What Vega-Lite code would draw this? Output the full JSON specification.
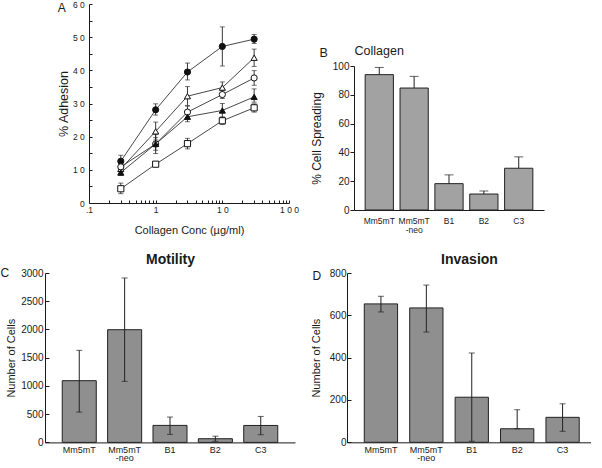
{
  "$schema": "https://vega.github.io/schema/vega-lite/v6.json",
  "background": "white",
  "padding": 0,
  "config": {
    "view": {"stroke": null},
    "font": "Liberation Sans",
    "axis": {"grid": false, "domainColor": "#1a1a1a", "tickColor": "#1a1a1a", "labelColor": "#1a1a1a", "titleColor": "#1a1a1a", "titleFontWeight": "normal", "domainWidth": 1, "tickWidth": 1}
  },
  "spacing": 16,
  "vconcat": [
    {
      "spacing": 11,
      "hconcat": [
        {"width": 1, "height": 1, "data": {"values": []}, "mark": {"type": "point", "opacity": 0}, "encoding": {}},
        {
          "width": 200, "height": 199,
          "data": {"values": [
            {"series": "s1", "conc": 0.3, "mean": 12.6, "lo": 10.9, "hi": 14.4},
            {"series": "s1", "conc": 1, "mean": 28.1, "lo": 26.5, "hi": 29.9},
            {"series": "s1", "conc": 3, "mean": 39.5, "lo": 37.1, "hi": 42.2},
            {"series": "s1", "conc": 10, "mean": 47.2, "lo": 41.3, "hi": 53.1},
            {"series": "s1", "conc": 30, "mean": 49.4, "lo": 48.1, "hi": 50.8},
            {"series": "s2", "conc": 0.3, "mean": 10.3, "lo": 9.3, "hi": 11.3},
            {"series": "s2", "conc": 1, "mean": 21.6, "lo": 19.0, "hi": 24.4},
            {"series": "s2", "conc": 3, "mean": 32.2, "lo": 29.4, "hi": 35.1},
            {"series": "s2", "conc": 10, "mean": 34.8, "lo": 33.1, "hi": 36.5},
            {"series": "s2", "conc": 30, "mean": 43.8, "lo": 41.2, "hi": 46.4},
            {"series": "s3", "conc": 0.3, "mean": 10.9, "lo": 10.0, "hi": 11.8},
            {"series": "s3", "conc": 1, "mean": 17.8, "lo": 15.9, "hi": 19.7},
            {"series": "s3", "conc": 3, "mean": 27.4, "lo": 25.6, "hi": 29.2},
            {"series": "s3", "conc": 10, "mean": 32.7, "lo": 31.5, "hi": 33.9},
            {"series": "s3", "conc": 30, "mean": 37.7, "lo": 35.5, "hi": 39.9},
            {"series": "s4", "conc": 0.3, "mean": 9.2, "lo": 8.3, "hi": 10.1},
            {"series": "s4", "conc": 1, "mean": 17.8, "lo": 14.9, "hi": 20.7},
            {"series": "s4", "conc": 3, "mean": 26.0, "lo": 24.5, "hi": 27.5},
            {"series": "s4", "conc": 10, "mean": 27.9, "lo": 25.9, "hi": 30.0},
            {"series": "s4", "conc": 30, "mean": 32.0, "lo": 30.4, "hi": 34.4},
            {"series": "s5", "conc": 0.3, "mean": 4.3, "lo": 2.8, "hi": 6.0},
            {"series": "s5", "conc": 1, "mean": 11.7, "lo": 11.1, "hi": 12.3},
            {"series": "s5", "conc": 3, "mean": 17.9, "lo": 16.3, "hi": 19.5},
            {"series": "s5", "conc": 10, "mean": 24.8, "lo": 23.7, "hi": 25.9},
            {"series": "s5", "conc": 30, "mean": 28.7, "lo": 27.4, "hi": 29.9}
          ]},
          "resolve": {"axis": {"x": "independent", "y": "independent"}},
          "layer": [
            {
              "mark": {"type": "line", "color": "#333333", "strokeWidth": 0.9},
              "encoding": {
                "x": {"field": "conc", "type": "quantitative", "title": "Collagen Conc (µg/ml)",
                  "scale": {"type": "log", "domain": [0.1, 100]},
                  "axis": {"values": [0.1,0.2,0.3,0.4,0.5,0.6,0.7,0.8,0.9,1,2,3,4,5,6,7,8,9,10,20,30,40,50,60,70,80,90,100],
                    "tickCount": 100,
                    "labelExpr": "datum.value == 0.1 ? '.1' : datum.value == 1 ? '1' : datum.value == 10 ? '1 0' : datum.value == 100 ? '1 0 0' : ''",
                    "tickSize": -3, "labelPadding": 5, "labelFontSize": 8.5, "labelFlush": false, "labelOverlap": false, "titleFontSize": 11, "titlePadding": 11}},
                "y": {"field": "mean", "type": "quantitative", "title": "% Adhesion",
                  "scale": {"domain": [0, 60]},
                  "axis": {"values": [0,5,10,15,20,25,30,35,40,45,50,55,60], "tickCount": 100, "format": "d",
                    "labelExpr": "datum.value % 10 == 0 ? join(split(datum.label, ''), ' ') : ''",
                    "tickSize": -3, "labelPadding": 7.7, "labelFontSize": 8.5, "labelOverlap": false, "titleFontSize": 12.5, "titlePadding": 2}},
                "detail": {"field": "series"}
              }
            },
            {
              "mark": {"type": "rule", "color": "#222222", "strokeWidth": 0.9},
              "encoding": {
                "x": {"field": "conc", "type": "quantitative", "axis": null},
                "y": {"field": "lo", "type": "quantitative", "axis": null},
                "y2": {"field": "hi"}
              }
            },
            {
              "mark": {"type": "tick", "orient": "horizontal", "size": 5, "thickness": 0.9, "color": "#222222"},
              "encoding": {
                "x": {"field": "conc", "type": "quantitative",
                  "axis": {"orient": "top", "title": "A", "labels": false, "ticks": false, "domain": false,
                    "titleFontSize": 12, "titleX": -31.7, "titleY": 7.2, "titleAlign": "left", "titleBaseline": "alphabetic", "titleAngle": 0}},
                "y": {"field": "lo", "type": "quantitative", "axis": null}
              }
            },
            {
              "mark": {"type": "tick", "orient": "horizontal", "size": 5, "thickness": 0.9, "color": "#222222"},
              "encoding": {
                "x": {"field": "conc", "type": "quantitative", "axis": null},
                "y": {"field": "hi", "type": "quantitative", "axis": null}
              }
            },
            {
              "mark": {"type": "point", "filled": true, "size": 38, "stroke": "#111111", "strokeWidth": 1, "opacity": 1},
              "encoding": {
                "x": {"field": "conc", "type": "quantitative", "axis": null},
                "y": {"field": "mean", "type": "quantitative", "axis": null},
                "shape": {"field": "series", "scale": {"domain": ["s1","s2","s3","s4","s5"], "range": ["circle","triangle-up","circle","triangle-up","square"]}, "legend": null},
                "fill": {"field": "series", "scale": {"domain": ["s1","s2","s3","s4","s5"], "range": ["#111111","#ffffff","#ffffff","#111111","#ffffff"]}, "legend": null}
              }
            }
          ]
        },
        {
          "spacing": 0,
          "vconcat": [
            {"width": 1, "height": 40, "data": {"values": []}, "mark": {"type": "point", "opacity": 0}, "encoding": {}},
            {
              "width": 190, "height": 144,
              "data": {"values": [
                {"cell": "Mm5mT", "value": 94, "hi": 99},
                {"cell": "Mm5mT-neo", "value": 84.7, "hi": 92.8},
                {"cell": "B1", "value": 18.3, "hi": 24.4},
                {"cell": "B2", "value": 11.1, "hi": 13.2},
                {"cell": "C3", "value": 29, "hi": 36.9}
              ]},
              "resolve": {"axis": {"x": "independent", "y": "independent"}},
              "layer": [
                {
                  "mark": {"type": "bar", "fill": "#a2a2a2", "stroke": "#222222", "strokeWidth": 1},
                  "encoding": {
                    "x": {"field": "cell", "type": "nominal", "sort": null, "title": null,
                      "scale": {"paddingInner": 0.19, "paddingOuter": 0.32},
                      "axis": {"orient": "bottom", "ticks": false, "labelAngle": 0, "labelFontSize": 8.5, "labelPadding": 6.5, "labelLineHeight": 9, "labelOverlap": false,
                        "labelExpr": "datum.label == 'Mm5mT-neo' ? ['Mm5mT', '-neo'] : datum.label"}},
                    "y": {"field": "value", "type": "quantitative", "title": "% Cell Spreading",
                      "scale": {"domain": [0, 100]},
                      "axis": {"values": [0,20,40,60,80,100], "tickCount": 100, "tickSize": 4, "labelPadding": 1, "labelFontSize": 10, "titleFontSize": 12, "titlePadding": 9}}
                  }
                },
                {
                  "mark": {"type": "rule", "color": "#222222", "strokeWidth": 1},
                  "encoding": {
                    "x": {"field": "cell", "type": "nominal", "sort": null,
                      "axis": {"orient": "top", "title": "Collagen", "labels": false, "ticks": false, "domain": false, "titleAnchor": "start", "titleFontSize": 12.5, "titlePadding": 8.5}},
                    "y": {"field": "value", "type": "quantitative", "axis": null},
                    "y2": {"field": "hi"}
                  }
                },
                {
                  "mark": {"type": "tick", "orient": "horizontal", "size": 9, "thickness": 1, "color": "#222222"},
                  "encoding": {
                    "x": {"field": "cell", "type": "nominal", "sort": null,
                      "axis": {"orient": "top", "title": "B", "labels": false, "ticks": false, "domain": false,
                        "titleFontSize": 12.5, "titleX": -35, "titleY": -9.7, "titleAlign": "left", "titleBaseline": "alphabetic", "titleAngle": 0}},
                    "y": {"field": "hi", "type": "quantitative", "axis": null}
                  }
                }
              ]
            }
          ]
        }
      ]
    },
    {
      "spacing": 15,
      "hconcat": [
        {
          "width": 250, "height": 169.4,
          "data": {"values": [
            {"cell": "Mm5mT", "value": 1093, "lo": 537, "hi": 1630},
            {"cell": "Mm5mT-neo", "value": 1996, "lo": 1081, "hi": 2912},
            {"cell": "B1", "value": 301, "lo": 142, "hi": 449},
            {"cell": "B2", "value": 65, "lo": 20, "hi": 110},
            {"cell": "C3", "value": 300, "lo": 136, "hi": 460}
          ]},
          "resolve": {"axis": {"x": "independent"}},
          "layer": [
            {
              "mark": {"type": "bar", "fill": "#8f8f8f", "stroke": "#222222", "strokeWidth": 1},
              "encoding": {
                "x": {"field": "cell", "type": "nominal", "sort": null, "title": null,
                  "scale": {"paddingInner": 0.25, "paddingOuter": 0.38},
                  "axis": {"orient": "bottom", "ticks": false, "labelAngle": 0, "labelFontSize": 9, "labelPadding": 3, "labelLineHeight": 8.5, "labelOverlap": false,
                    "labelExpr": "datum.label == 'Mm5mT-neo' ? ['Mm5mT', '-neo'] : datum.label"}},
                "y": {"field": "value", "type": "quantitative", "title": "Number of Cells",
                  "scale": {"domain": [0, 3000]},
                  "axis": {"values": [0,500,1000,1500,2000,2500,3000], "tickCount": 100, "format": "d", "tickSize": -4, "labelPadding": 6, "labelFontSize": 10, "titleFontSize": 11, "titlePadding": 4.5}}
              }
            },
            {
              "mark": {"type": "rule", "color": "#222222", "strokeWidth": 1},
              "encoding": {
                "x": {"field": "cell", "type": "nominal", "sort": null,
                  "axis": {"orient": "top", "title": "Motility", "labels": false, "ticks": false, "domain": false, "titleFontSize": 14, "titleFontWeight": "bold", "titlePadding": 6.3}},
                "y": {"field": "lo", "type": "quantitative", "title": "Number of Cells"},
                "y2": {"field": "hi"}
              }
            },
            {
              "mark": {"type": "tick", "orient": "horizontal", "size": 6, "thickness": 1, "color": "#222222"},
              "encoding": {
                "x": {"field": "cell", "type": "nominal", "sort": null,
                  "axis": {"orient": "top", "title": "C", "labels": false, "ticks": false, "domain": false,
                    "titleFontSize": 12, "titleX": -45, "titleY": 3.4, "titleAlign": "left", "titleBaseline": "alphabetic", "titleAngle": 0}},
                "y": {"field": "lo", "type": "quantitative", "title": "Number of Cells"}
              }
            },
            {
              "mark": {"type": "tick", "orient": "horizontal", "size": 6, "thickness": 1, "color": "#222222"},
              "encoding": {
                "x": {"field": "cell", "type": "nominal", "sort": null, "axis": null},
                "y": {"field": "hi", "type": "quantitative", "title": "Number of Cells"}
              }
            }
          ]
        },
        {
          "width": 244, "height": 169.3,
          "data": {"values": [
            {"cell": "Mm5mT", "value": 654, "lo": 616, "hi": 690},
            {"cell": "Mm5mT-neo", "value": 635, "lo": 521, "hi": 743},
            {"cell": "B1", "value": 213, "lo": 5, "hi": 422},
            {"cell": "B2", "value": 64, "lo": 64, "hi": 154},
            {"cell": "C3", "value": 118, "lo": 52, "hi": 182}
          ]},
          "resolve": {"axis": {"x": "independent"}},
          "layer": [
            {
              "mark": {"type": "bar", "fill": "#8f8f8f", "stroke": "#222222", "strokeWidth": 1},
              "encoding": {
                "x": {"field": "cell", "type": "nominal", "sort": null, "title": null,
                  "scale": {"paddingInner": 0.267, "paddingOuter": 0.32, "align": 0.595},
                  "axis": {"orient": "bottom", "ticks": false, "labelAngle": 0, "labelFontSize": 9, "labelPadding": 3, "labelLineHeight": 8.5, "labelOverlap": false,
                    "labelExpr": "datum.label == 'Mm5mT-neo' ? ['Mm5mT', '-neo'] : datum.label"}},
                "y": {"field": "value", "type": "quantitative", "title": "Number of Cells",
                  "scale": {"domain": [0, 800]},
                  "axis": {"values": [0,200,400,600,800], "tickCount": 100, "tickSize": -4, "labelPadding": 5, "labelFontSize": 10, "titleFontSize": 11, "titlePadding": 7.5}}
              }
            },
            {
              "mark": {"type": "rule", "color": "#222222", "strokeWidth": 1},
              "encoding": {
                "x": {"field": "cell", "type": "nominal", "sort": null,
                  "axis": {"orient": "top", "title": "Invasion", "labels": false, "ticks": false, "domain": false, "titleFontSize": 14, "titleFontWeight": "bold", "titlePadding": 7}},
                "y": {"field": "lo", "type": "quantitative", "title": "Number of Cells"},
                "y2": {"field": "hi"}
              }
            },
            {
              "mark": {"type": "tick", "orient": "horizontal", "size": 6, "thickness": 1, "color": "#222222"},
              "encoding": {
                "x": {"field": "cell", "type": "nominal", "sort": null,
                  "axis": {"orient": "top", "title": "D", "labels": false, "ticks": false, "domain": false,
                    "titleFontSize": 12, "titleX": -35, "titleY": 6, "titleAlign": "left", "titleBaseline": "alphabetic", "titleAngle": 0}},
                "y": {"field": "lo", "type": "quantitative", "title": "Number of Cells"}
              }
            },
            {
              "mark": {"type": "tick", "orient": "horizontal", "size": 6, "thickness": 1, "color": "#222222"},
              "encoding": {
                "x": {"field": "cell", "type": "nominal", "sort": null, "axis": null},
                "y": {"field": "hi", "type": "quantitative", "title": "Number of Cells"}
              }
            }
          ]
        }
      ]
    }
  ]
}
